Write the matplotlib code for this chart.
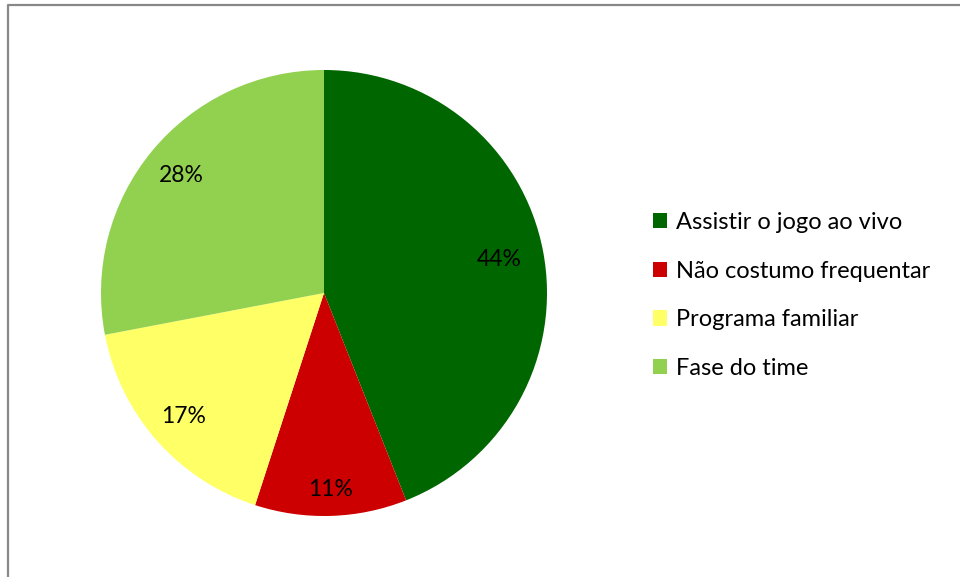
import numpy as np
import matplotlib.pyplot as plt
from matplotlib.lines import Line2D
from matplotlib.patches import Patch

plt.rcParams['font.family'] = ['Lato', 'DejaVu Sans']

categories = ['Assistir o jogo ao vivo', 'Não costumo frequentar',
              'Programa familiar', 'Fase do time']
shares = [44, 11, 17, 28]
colors = ['#006600', '#CC0000', '#FFFF66', '#92D050']
label_dist = [0.80, 0.88, 0.84, 0.83]

fig = plt.figure(figsize=(9.6, 5.77), dpi=100)
ax = fig.add_axes([0.1052, 0.1057, 0.4646, 0.773])

wedges, _ = ax.pie(shares, colors=colors, startangle=90, counterclock=False,
                   wedgeprops=dict(linewidth=0))
ax.set_aspect('auto')
ax.set_xlim(-1, 1)
ax.set_ylim(-1, 1)

# percentage labels, placed along each slice's mid angle
for w, v, d in zip(wedges, shares, label_dist):
    ang = np.deg2rad((w.theta1 + w.theta2) / 2)
    ax.text(d * np.cos(ang), d * np.sin(ang), f'{v}%', ha='center', va='center',
            fontsize=16.5, color='black')

handles = [Patch(facecolor=c, edgecolor='none') for c in colors]
fig.legend(handles, categories, loc='upper left', bbox_to_anchor=(0.670, 0.649),
           frameon=False, fontsize=17, handlelength=0.62, handleheight=0.62,
           handletextpad=0.35, labelspacing=1.17, borderaxespad=0)

# chart area frame (top and left edges visible)
fig.add_artist(Line2D([7.5 / 960, 7.5 / 960, 1], [0, 1 - 5 / 577, 1 - 5 / 577],
                      transform=fig.transFigure, color='#888888', linewidth=1.6))

fig.savefig('out.png', dpi=100)
